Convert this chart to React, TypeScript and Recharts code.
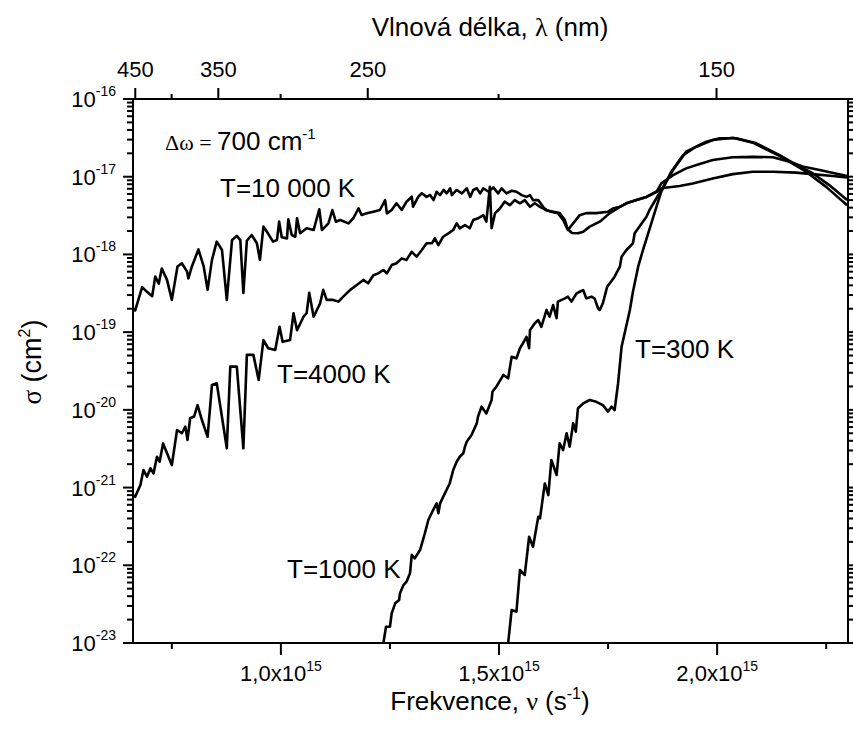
import React from "react";
import { LineChart, Line, XAxis, YAxis } from "recharts";

// frequency in units of 1e15 s^-1, cross-section sigma in cm^2
const curve10000K: [number, number][] = [
  [0.661, 2.0e-19], [0.666, 1.9e-19], [0.682, 3.8e-19], [0.693, 3.3e-19], [0.705, 2.9e-19],
  [0.712, 5.2e-19], [0.72, 4.2e-19], [0.727, 6.6e-19], [0.739, 4.7e-19], [0.75, 2.6e-19],
  [0.763, 7.0e-19], [0.773, 7.7e-19], [0.785, 6.0e-19], [0.788, 4.9e-19], [0.796, 7.0e-19],
  [0.811, 1.16e-18], [0.823, 7.0e-19], [0.832, 3.5e-19], [0.842, 8.5e-19], [0.853, 1.46e-18],
  [0.865, 1.14e-18], [0.876, 2.6e-19], [0.888, 1.53e-18], [0.899, 1.73e-18], [0.907, 1.53e-18],
  [0.914, 3.2e-19], [0.922, 1.5e-18], [0.933, 1.78e-18], [0.945, 1.39e-18], [0.952, 8.5e-19],
  [0.96, 2.28e-18], [0.968, 1.96e-18], [0.982, 1.46e-18], [0.991, 1.53e-18], [0.996, 2.64e-18],
  [1.002, 1.66e-18], [1.014, 1.61e-18], [1.017, 2.83e-18], [1.025, 1.78e-18], [1.033, 1.69e-18],
  [1.037, 2.92e-18], [1.044, 1.87e-18], [1.059, 2.17e-18], [1.075, 2.06e-18], [1.088, 3.81e-18],
  [1.094, 2.06e-18], [1.109, 2.51e-18], [1.118, 3.73e-18], [1.126, 2.64e-18], [1.136, 2.77e-18],
  [1.155, 2.51e-18], [1.166, 2.92e-18], [1.178, 3.92e-18], [1.185, 3.22e-18], [1.197, 3.38e-18],
  [1.212, 3.55e-18], [1.227, 3.73e-18], [1.239, 5.0e-18], [1.243, 3.38e-18], [1.254, 3.73e-18],
  [1.265, 4.55e-18], [1.277, 3.73e-18], [1.288, 4.77e-18], [1.3, 5.53e-18], [1.303, 4.11e-18],
  [1.315, 5.53e-18], [1.323, 6.12e-18], [1.334, 5.5e-18], [1.342, 5.82e-18], [1.35, 5.0e-18],
  [1.357, 6.41e-18], [1.365, 5.8e-18], [1.373, 6.75e-18], [1.38, 6.1e-18], [1.388, 7.1e-18],
  [1.392, 5.8e-18], [1.403, 6.75e-18], [1.415, 6.1e-18], [1.426, 7.1e-18], [1.434, 5.5e-18],
  [1.441, 6.75e-18], [1.449, 7.1e-18], [1.457, 6.1e-18], [1.464, 7.1e-18], [1.476, 6.4e-18],
  [1.487, 7.3e-18], [1.498, 6.1e-18], [1.506, 7.1e-18], [1.517, 6.1e-18], [1.529, 6.6e-18],
  [1.54, 6.4e-18], [1.552, 5.8e-18], [1.563, 5.5e-18], [1.571, 5.8e-18], [1.578, 5.0e-18],
  [1.59, 5.0e-18], [1.601, 4.1e-18], [1.609, 3.7e-18], [1.624, 3.55e-18], [1.639, 3.4e-18],
  [1.651, 2.77e-18], [1.658, 2.06e-18], [1.685, 3.2e-18], [1.7, 3.4e-18], [1.723, 3.4e-18],
  [1.75, 3.55e-18], [1.761, 3.9e-18], [1.777, 4.1e-18], [1.792, 4.55e-18], [1.815, 5.0e-18],
  [1.838, 5.5e-18], [1.861, 6.4e-18], [1.872, 7.1e-18], [1.914, 7.6e-18], [1.944, 8.2e-18],
  [1.99, 9.5e-18], [2.036, 1.08e-17], [2.082, 1.16e-17], [2.128, 1.16e-17], [2.181, 1.13e-17],
  [2.219, 1.08e-17], [2.265, 1.02e-17], [2.298, 9.8e-18],
];

const curve4000K: [number, number][] = [
  [0.661, 8.0e-22], [0.666, 7.6e-22], [0.678, 1.08e-21], [0.685, 1.68e-21], [0.693, 1.38e-21],
  [0.701, 1.77e-21], [0.708, 1.52e-21], [0.716, 2.49e-21], [0.722, 2.15e-21], [0.73, 3.7e-21],
  [0.739, 2.76e-21], [0.75, 1.95e-21], [0.762, 5.5e-21], [0.773, 5.0e-21], [0.781, 6.07e-21],
  [0.786, 4.1e-21], [0.792, 7.8e-21], [0.801, 8.2e-21], [0.809, 1.15e-20], [0.819, 7.4e-21],
  [0.832, 4.5e-21], [0.842, 2.09e-20], [0.853, 2.2e-20], [0.876, 3.2e-21], [0.884, 3.6e-20],
  [0.899, 3.6e-20], [0.914, 3.2e-21], [0.922, 5.1e-20], [0.937, 5.1e-20], [0.949, 2.42e-20],
  [0.96, 7.9e-20], [0.971, 6.2e-20], [0.987, 5.9e-20], [0.997, 1.17e-19], [1.004, 7.5e-20],
  [1.021, 7.9e-20], [1.029, 1.75e-19], [1.037, 1.06e-19], [1.052, 1.58e-19], [1.059, 1.75e-19],
  [1.065, 3.2e-19], [1.075, 1.58e-19], [1.09, 2.35e-19], [1.097, 3.5e-19], [1.105, 2.6e-19],
  [1.12, 2.6e-19], [1.132, 2.47e-19], [1.143, 2.86e-19], [1.159, 3.5e-19], [1.174, 4.04e-19],
  [1.189, 4.7e-19], [1.2, 4.25e-19], [1.212, 5.4e-19], [1.223, 5.7e-19], [1.235, 6.3e-19],
  [1.243, 5.7e-19], [1.254, 7.3e-19], [1.265, 7.7e-19], [1.277, 8.9e-19], [1.288, 8.5e-19],
  [1.3, 1.08e-18], [1.311, 9.35e-19], [1.323, 1.14e-18], [1.334, 1.39e-18], [1.346, 1.39e-18],
  [1.353, 1.61e-18], [1.361, 1.32e-18], [1.372, 1.69e-18], [1.384, 1.87e-18], [1.395, 2.06e-18],
  [1.403, 2.51e-18], [1.41, 2.17e-18], [1.422, 2.39e-18], [1.433, 2.17e-18], [1.441, 2.77e-18],
  [1.452, 2.92e-18], [1.464, 3.2e-18], [1.471, 2.64e-18], [1.479, 7.4e-18], [1.483, 2.17e-18],
  [1.491, 3.4e-18], [1.502, 3.9e-18], [1.513, 4.77e-18], [1.525, 4.3e-18], [1.536, 5.0e-18],
  [1.548, 4.55e-18], [1.559, 5.0e-18], [1.571, 4.1e-18], [1.582, 4.55e-18], [1.594, 4.1e-18],
  [1.609, 3.7e-18], [1.62, 3.55e-18], [1.635, 3.4e-18], [1.647, 2.77e-18], [1.656, 2.17e-18],
  [1.667, 1.89e-18], [1.681, 1.87e-18], [1.693, 1.96e-18], [1.708, 2.28e-18], [1.731, 2.64e-18],
  [1.754, 3.4e-18], [1.777, 4.1e-18], [1.792, 4.55e-18], [1.815, 5.0e-18], [1.838, 5.5e-18],
  [1.861, 6.4e-18], [1.872, 8.2e-18], [1.899, 1.05e-17], [1.929, 1.28e-17], [1.96, 1.46e-17],
  [1.99, 1.64e-17], [2.036, 1.78e-17], [2.082, 1.8e-17], [2.128, 1.78e-17], [2.166, 1.56e-17],
  [2.196, 1.35e-17], [2.235, 1.22e-17], [2.298, 1.02e-17],
];

const curve1000K: [number, number][] = [
  [1.235, 1.0e-23], [1.241, 1.62e-23], [1.25, 1.62e-23], [1.254, 2.41e-23], [1.262, 3.24e-23],
  [1.271, 3.57e-23], [1.273, 4.36e-23], [1.281, 5.57e-23], [1.288, 6.15e-23], [1.296, 7.9e-23],
  [1.3, 1.36e-22], [1.307, 1.23e-22], [1.319, 1.57e-22], [1.33, 2.58e-22], [1.338, 3.83e-22],
  [1.349, 5.14e-22], [1.357, 6.27e-22], [1.361, 4.67e-22], [1.365, 6.27e-22], [1.372, 7.6e-22],
  [1.387, 1.13e-21], [1.395, 1.68e-21], [1.403, 2.15e-21], [1.41, 2.49e-21], [1.418, 2.76e-21],
  [1.422, 3.36e-21], [1.426, 3.89e-21], [1.437, 4.75e-21], [1.449, 6.7e-21], [1.452, 8.2e-21],
  [1.46, 1.1e-20], [1.471, 9.0e-21], [1.483, 1.34e-20], [1.485, 1.71e-20], [1.494, 1.99e-20],
  [1.51, 2.81e-20], [1.521, 2.55e-20], [1.529, 4.83e-20], [1.54, 4.6e-20], [1.548, 6.2e-20],
  [1.555, 7.2e-20], [1.563, 8.7e-20], [1.569, 6.2e-20], [1.571, 1.06e-19], [1.582, 1.3e-19],
  [1.59, 1.43e-19], [1.597, 1.17e-19], [1.609, 1.93e-19], [1.616, 1.58e-19], [1.624, 2.23e-19],
  [1.632, 1.51e-19], [1.635, 2.47e-19], [1.651, 2.72e-19], [1.658, 2.86e-19], [1.666, 2.47e-19],
  [1.678, 3.16e-19], [1.685, 3.31e-19], [1.693, 3.48e-19], [1.7, 2.72e-19], [1.712, 2.86e-19],
  [1.719, 2.72e-19], [1.727, 2.03e-19], [1.731, 1.93e-19], [1.738, 2.35e-19], [1.748, 3.85e-19],
  [1.754, 4.25e-19], [1.765, 5.17e-19], [1.777, 6.95e-19], [1.781, 9.35e-19], [1.792, 1.14e-18],
  [1.807, 1.39e-18], [1.811, 1.87e-18], [1.838, 3.06e-18], [1.845, 3.73e-18], [1.872, 6.75e-18],
  [1.899, 1.22e-17], [1.929, 2.1e-17], [1.975, 2.82e-17], [2.006, 3.12e-17], [2.044, 3.12e-17],
  [2.09, 2.69e-17], [2.143, 1.9e-17], [2.189, 1.35e-17], [2.219, 1.11e-17], [2.257, 7.8e-18],
  [2.298, 5.0e-18],
];

const curve300K: [number, number][] = [
  [1.521, 1.0e-23], [1.529, 2.66e-23], [1.54, 2.53e-23], [1.548, 8.7e-23], [1.559, 7.5e-23],
  [1.569, 2.33e-22], [1.578, 1.73e-22], [1.59, 4.22e-22], [1.594, 4.02e-22], [1.605, 1.13e-21],
  [1.613, 8.0e-22], [1.62, 2.26e-21], [1.632, 1.45e-21], [1.639, 3.72e-21], [1.647, 3.04e-21],
  [1.655, 4.99e-21], [1.662, 3.36e-21], [1.67, 6.7e-21], [1.676, 5.24e-21], [1.681, 1.05e-20],
  [1.693, 1.21e-20], [1.708, 1.34e-20], [1.723, 1.27e-20], [1.738, 1.15e-20], [1.75, 9.5e-21],
  [1.758, 1.1e-20], [1.765, 9.95e-21], [1.773, 2.2e-20], [1.781, 6.5e-20], [1.788, 9.7e-20],
  [1.8, 1.93e-19], [1.807, 3.31e-19], [1.819, 6.95e-19], [1.83, 1.14e-18], [1.842, 1.87e-18],
  [1.861, 4.11e-18], [1.872, 6.41e-18], [1.895, 1.16e-17], [1.922, 1.9e-17], [1.952, 2.43e-17],
  [1.99, 2.97e-17], [2.036, 3.18e-17], [2.082, 2.74e-17], [2.143, 1.85e-17], [2.204, 1.16e-17],
  [2.25, 7.4e-18], [2.298, 4.3e-18],
];

// axis ticks
const freqTicks = [0.75, 1.0, 1.25, 1.5, 1.75, 2.0, 2.25];
const freqMajor = [1.0, 1.5, 2.0];
const waveTicks = [450, 400, 350, 300, 250, 200, 150]; // nm
const waveMajor = [450, 350, 250, 150];
const decades = [-23, -22, -21, -20, -19, -18, -17, -16];
const mantissas = [1, 2, 3, 4, 5, 6, 7, 8, 9];

const X_MIN = 0.661;
const X_MAX = 2.3;
const C_NM = 299.79; // c in nm * 1e15 s^-1
const sigmaTicks = decades.flatMap((d) =>
  d === -16 ? [1e-16] : mantissas.map((m) => Number((m * Math.pow(10, d)).toPrecision(3)))
);
const topTicks = waveTicks.map((l) => C_NM / l);

const toRows = (c: [number, number][]) => c.map(([nu, s]) => ({ nu, s }));

const FONT = "'Liberation Sans', Arial, sans-serif";
const GREEK = "'Liberation Serif', 'DejaVu Serif', serif";
const INK = "#000";

const isDecade = (v: number) => {
  const lg = Math.log10(v);
  return Math.abs(lg - Math.round(lg)) < 1e-6;
};

function BottomTick({ x, y, payload }: any) {
  const v = payload.value;
  const major = freqMajor.some((m) => Math.abs(m - v) < 1e-6);
  return (
    <g>
      <rect x={x - 1} y={y} width={2} height={major ? 12 : 6} fill={INK} />
      {major && (
        <text x={x} y={y + 38} textAnchor="middle" fontFamily={FONT} fontSize={22} fill={INK}>
          {v.toFixed(1).replace(".", ",")}x10
          <tspan dy={-10} fontSize={14}>15</tspan>
        </text>
      )}
    </g>
  );
}

function TopTick({ x, y, payload }: any) {
  const lambda = Math.round(C_NM / payload.value);
  const major = waveMajor.includes(lambda);
  return (
    <g>
      <rect x={x - 1} y={y - (major ? 11 : 5)} width={2} height={major ? 11 : 5} fill={INK} />
      {major && (
        <text x={x} y={y - 22} textAnchor="middle" fontFamily={FONT} fontSize={22} fill={INK}>
          {lambda}
        </text>
      )}
    </g>
  );
}

function LeftTick({ x, y, payload }: any) {
  const v = payload.value;
  const major = isDecade(v);
  const len = major ? 10 : 6;
  return (
    <g>
      <rect x={x - len} y={y - 1} width={len} height={2} fill={INK} />
      {major && (
        <text x={x - 17} y={y + 8} textAnchor="end" fontFamily={FONT} fontSize={22} fill={INK}>
          10
          <tspan dy={-11} fontSize={14}>{Math.round(Math.log10(v))}</tspan>
        </text>
      )}
    </g>
  );
}

function RightTick({ x, y, payload }: any) {
  const len = isDecade(payload.value) ? 10 : 6;
  return <rect x={x} y={y - 1} width={len} height={2} fill={INK} />;
}

const series = [
  { key: "10000", data: curve10000K },
  { key: "4000", data: curve4000K },
  { key: "1000", data: curve1000K },
  { key: "300", data: curve300K },
];

export default function App() {
  const axisLine = { stroke: INK, strokeWidth: 2 };
  return (
    <div style={{ position: "absolute", left: 0, top: 0, width: 853, height: 736, background: "#fff" }}>
      <LineChart width={853} height={736} margin={{ top: 0, right: 0, bottom: 0, left: 0 }}>
        <XAxis
          xAxisId="bottom"
          dataKey="nu"
          type="number"
          domain={[X_MIN, X_MAX]}
          allowDataOverflow
          ticks={freqTicks}
          interval={0}
          height={93}
          tickSize={0}
          tickMargin={0}
          tickLine={false}
          axisLine={axisLine}
          tick={<BottomTick />}
        />
        <XAxis
          xAxisId="top"
          orientation="top"
          dataKey="nu"
          type="number"
          domain={[X_MIN, X_MAX]}
          allowDataOverflow
          ticks={topTicks}
          interval={0}
          height={99}
          tickSize={0}
          tickMargin={0}
          tickLine={false}
          axisLine={axisLine}
          tick={<TopTick />}
        />
        <YAxis
          yAxisId="left"
          dataKey="s"
          scale="log"
          type="number"
          domain={[1e-23, 1e-16]}
          allowDataOverflow
          ticks={sigmaTicks}
          interval={0}
          width={133}
          tickSize={0}
          tickMargin={0}
          tickLine={false}
          axisLine={axisLine}
          tick={<LeftTick />}
        />
        <YAxis
          yAxisId="right"
          orientation="right"
          scale="log"
          type="number"
          domain={[1e-23, 1e-16]}
          allowDataOverflow
          ticks={sigmaTicks}
          interval={0}
          width={5}
          tickSize={0}
          tickMargin={0}
          tickLine={false}
          axisLine={axisLine}
          tick={<RightTick />}
        />
        {series.map((s) => (
          <Line
            key={s.key}
            xAxisId="bottom"
            yAxisId="left"
            data={toRows(s.data)}
            dataKey="s"
            type="linear"
            stroke={INK}
            strokeWidth={2.6}
            strokeLinejoin="round"
            dot={false}
            activeDot={false}
            isAnimationActive={false}
          />
        ))}
      </LineChart>
      <svg
        width={853}
        height={736}
        style={{ position: "absolute", left: 0, top: 0, pointerEvents: "none" }}
      >
        <text x={490} y={36} textAnchor="middle" fontFamily={FONT} fontSize={26} fill={INK}>
          Vlnová délka, <tspan fontFamily={GREEK}>λ</tspan> (nm)
        </text>
        <text x={490} y={710} textAnchor="middle" fontFamily={FONT} fontSize={26} fill={INK}>
          Frekvence, <tspan fontFamily={GREEK}>ν</tspan> (s
          <tspan dy={-11} fontSize={16}>-1</tspan>
          <tspan dy={11}>)</tspan>
        </text>
        <text
          x={41}
          y={362}
          transform="rotate(-90 41 362)"
          textAnchor="middle"
          fontFamily={FONT}
          fontSize={27}
          fill={INK}
        >
          <tspan fontFamily={GREEK}>σ</tspan> (cm
          <tspan dy={-11} fontSize={16}>2</tspan>
          <tspan dy={11}>)</tspan>
        </text>
        <text x={165} y={150} fontFamily={FONT} fontSize={26} fill={INK}>
          <tspan fontFamily={GREEK} fontSize={22}>Δω = </tspan>700 cm
          <tspan dy={-11} fontSize={15}>-1</tspan>
        </text>
        <text x={220} y={197} fontFamily={FONT} fontSize={26} fill={INK}>T=10 000 K</text>
        <text x={277} y={383} fontFamily={FONT} fontSize={26} fill={INK}>T=4000 K</text>
        <text x={287} y={578} fontFamily={FONT} fontSize={26} fill={INK}>T=1000 K</text>
        <text x={635} y={358} fontFamily={FONT} fontSize={26} fill={INK}>T=300 K</text>
      </svg>
    </div>
  );
}
